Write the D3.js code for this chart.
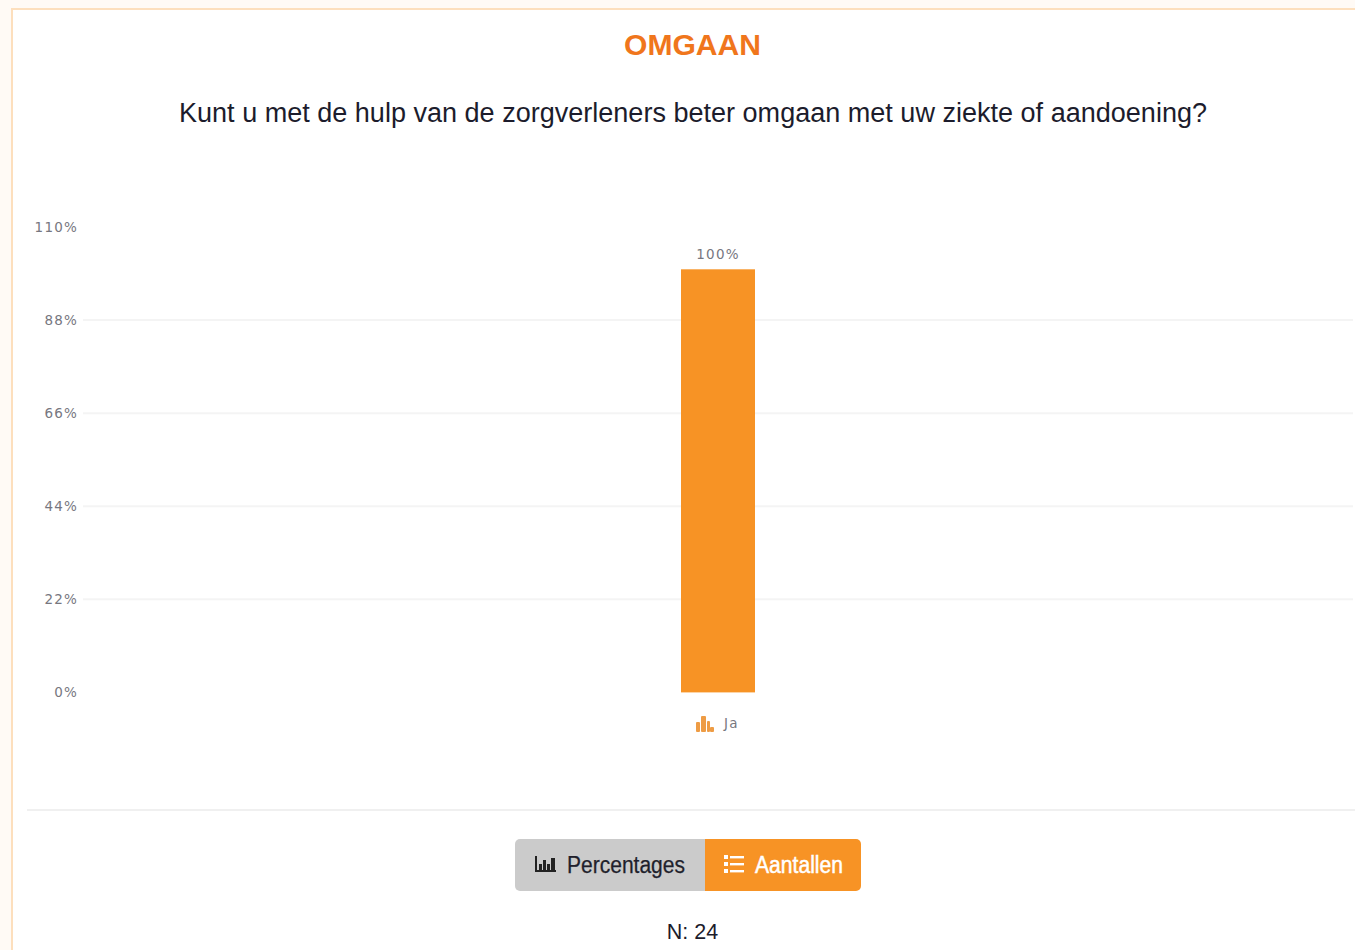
<!DOCTYPE html>
<html><head><meta charset="utf-8">
<script src="https://cdn.jsdelivr.net/npm/d3@7/dist/d3.min.js"></script>
<style>html,body{margin:0;padding:0;background:#fff;overflow:hidden}svg{display:block}</style>
</head><body><svg id="c" width="1355" height="950"></svg>
<script>
const titleText = "OMGAAN";
const questionText = "Kunt u met de hulp van de zorgverleners beter omgaan met uw ziekte of aandoening?";
const categories = ["Ja"];
const values = [100];
const tickValues = [0, 22, 44, 66, 88, 110];
const buttonLabels = ["Percentages", "Aantallen"];
const footerText = "N: 24";

const svg = d3.select("#c");
const sans = "'Liberation Sans', Arial, sans-serif";
const mono = "'DejaVu Sans', sans-serif";

// page and panel
svg.append("rect").attr("width",1355).attr("height",950).attr("fill","#fffaf5");
svg.append("rect").attr("x",12).attr("y",9).attr("width",1360).attr("height",960)
  .attr("fill","#fff").attr("stroke","#fddfbd").attr("stroke-width",2);

svg.append("text").attr("x",692.5).attr("y",55).attr("text-anchor","middle")
  .attr("font-family",sans).attr("font-weight",700).attr("font-size",29).attr("fill","#f0761c")
  .attr("textLength",137).attr("lengthAdjust","spacingAndGlyphs").text(titleText);
svg.append("text").attr("x",693).attr("y",122).attr("text-anchor","middle")
  .attr("font-family",sans).attr("font-size",27).attr("fill","#1c1c2c")
  .attr("textLength",1028).attr("lengthAdjust","spacingAndGlyphs").text(questionText);

// chart
const y = d3.scaleLinear().domain([0,110]).range([692.4,227]);
const x = d3.scaleBand().domain(categories).range([83,1353]);
const barW = 74;

const yAxis = d3.axisLeft(y).tickValues(tickValues).tickFormat(d=>d+"%").tickSize(0).tickPadding(5);
const gy = svg.append("g").attr("transform","translate(83,0)").call(yAxis);
gy.select(".domain").remove();
gy.selectAll("text").attr("font-family",mono).attr("font-size",13.5).attr("fill","#77777f")
  .attr("letter-spacing",1.2).attr("dy","0.32em");

svg.append("g").selectAll("line").data(tickValues.filter(d=>d>0&&d<110)).join("line")
  .attr("x1",83).attr("x2",1353).attr("y1",d=>y(d)).attr("y2",d=>y(d))
  .attr("stroke","#f4f4f4").attr("stroke-width",2);

const cx = d=>x(d)+x.bandwidth()/2;
svg.append("g").selectAll("rect").data(categories).join("rect")
  .attr("x",d=>cx(d)-barW/2).attr("width",barW)
  .attr("y",(d,i)=>y(values[i])).attr("height",(d,i)=>y(0)-y(values[i]))
  .attr("fill","#f79325");
svg.append("g").selectAll("text").data(categories).join("text")
  .attr("x",d=>cx(d)).attr("y",(d,i)=>y(values[i])-10).attr("text-anchor","middle")
  .attr("font-family",mono).attr("font-size",13.5).attr("letter-spacing",1.2).attr("fill","#77777f")
  .text((d,i)=>values[i]+"%");

// category label with small bar icon
const ic = svg.append("g").attr("transform","translate(696,716)").attr("fill","#ee9c45");
[[0,6,4,10],[5,0,5,16],[11,5,3,11],[14,11,4,5]].forEach(r=>ic.append("rect").attr("x",r[0]).attr("y",r[1]).attr("width",r[2]).attr("height",r[3]).attr("rx",1));
svg.append("text").attr("x",724).attr("y",728).attr("font-family",mono).attr("font-size",13.5)
  .attr("letter-spacing",1.2).attr("fill","#77777f").text(categories[0]);

// separator
svg.append("line").attr("x1",27).attr("x2",1355).attr("y1",810).attr("y2",810).attr("stroke","#f0f0f0").attr("stroke-width",2);

// buttons
svg.append("path").attr("d","M705 839H520a5 5 0 0 0-5 5V886a5 5 0 0 0 5 5H705Z").attr("fill","#cbcbcb");
svg.append("path").attr("d","M705 839H856a5 5 0 0 1 5 5V886a5 5 0 0 1-5 5H705Z").attr("fill","#f79325");
svg.append("text").attr("x",567).attr("y",873).attr("font-family",sans).attr("font-size",23).attr("fill","#1f1f2c")
  .attr("stroke","#1f1f2c").attr("stroke-width",0.25)
  .attr("textLength",118).attr("lengthAdjust","spacingAndGlyphs").text(buttonLabels[0]);
svg.append("text").attr("x",755).attr("y",873).attr("font-family",sans).attr("font-size",23).attr("fill","#fff")
  .attr("stroke","#fff").attr("stroke-width",0.5)
  .attr("textLength",88).attr("lengthAdjust","spacingAndGlyphs").text(buttonLabels[1]);

// chart icon in the grey button
const ci = svg.append("g").attr("fill","#222");
ci.append("path").attr("d","M535 856h2v14h19v2h-21Z");
[[539,864,3,6],[543,860,3,10],[547,864,3,6],[551,858,4,12]].forEach(r=>ci.append("rect").attr("x",r[0]).attr("y",r[1]).attr("width",r[2]).attr("height",r[3]));
// list icon in the orange button
const li = svg.append("g").attr("fill","#fff");
[856,863,870].forEach(v=>{
  li.append("rect").attr("x",724).attr("y",v-1).attr("width",4).attr("height",4);
  li.append("rect").attr("x",730).attr("y",v).attr("width",14).attr("height",2.4);
});

svg.append("text").attr("x",692.5).attr("y",938.5).attr("text-anchor","middle").attr("font-family",sans)
  .attr("font-size",21.5).attr("fill","#1c1c2c").text(footerText);
</script></body></html>
